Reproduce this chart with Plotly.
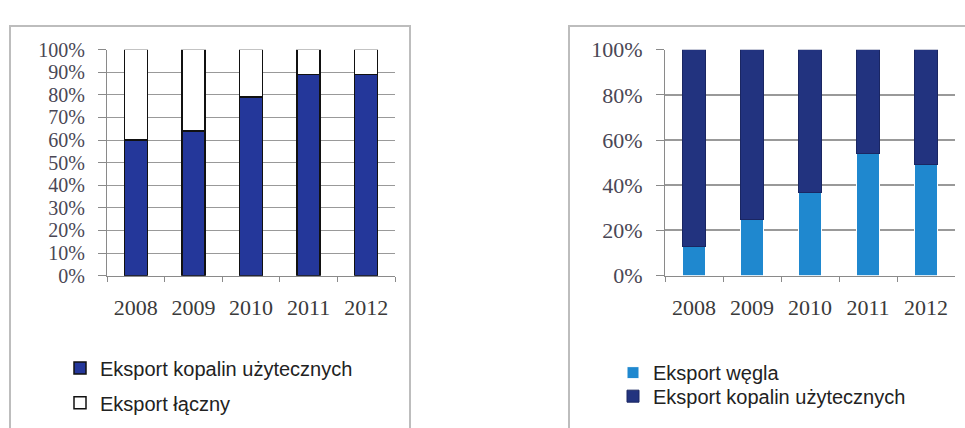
import plotly.graph_objects as go

# --- data -------------------------------------------------------------
years = ["2008", "2009", "2010", "2011", "2012"]

# left panel: share of mineral exports in total exports (%)
kopalin_share = [60, 64, 79, 89, 89]
laczny_rest = [40, 36, 21, 11, 11]

# right panel: share of coal within mineral exports (%)
wegiel_share = [13, 25, 37, 54, 49]
kopalin_rest = [87, 75, 63, 46, 51]

left_ticks = list(range(0, 101, 10))
left_labels = ["0%", "10%", "20%", "30%", "40%", "50%",
               "60%", "70%", "80%", "90%", "100%"]
right_ticks = list(range(0, 101, 20))
right_labels = ["0%", "20%", "40%", "60%", "80%", "100%"]

# --- page geometry (pixels) -------------------------------------------
W, H = 965, 428


def px(x):
    return x / W


def py(y):
    return 1 - y / H


NAVY = "#24379a"
DARK = "#22337f"
LIGHT = "#1f88cf"
SERIF = "Liberation Serif, Times New Roman, serif"
SANS = "Liberation Sans, Arial, sans-serif"

fig = go.Figure()

fig.add_trace(go.Bar(
    x=years, y=kopalin_share, name="Eksport kopalin użytecznych",
    marker=dict(color=NAVY, line=dict(color="#111111", width=1.5)),
    width=0.4, xaxis="x", yaxis="y", legend="legend",
))
fig.add_trace(go.Bar(
    x=years, y=laczny_rest, name="Eksport łączny",
    marker=dict(color="white", line=dict(color="#111111", width=1.5)),
    width=0.4, xaxis="x", yaxis="y", legend="legend2",
))
fig.add_trace(go.Bar(
    x=years, y=wegiel_share, name="Eksport węgla",
    marker=dict(color=LIGHT, line=dict(color="white", width=1)),
    width=0.38, xaxis="x2", yaxis="y2", legend="legend3",
))
fig.add_trace(go.Bar(
    x=years, y=kopalin_rest, name="Eksport kopalin użytecznych",
    marker=dict(color=DARK, line=dict(color="#1a2662", width=1)),
    width=0.38, xaxis="x2", yaxis="y2", legend="legend4",
))

xaxis_common = dict(
    type="category", showgrid=False, zeroline=False,
    showline=True, linecolor="#8a8a8a", linewidth=1,
    ticks="outside", tickson="boundaries", ticklen=5, tickcolor="#8a8a8a",
    tickfont=dict(family=SERIF, size=22, color="#3a3a3a"),
    ticklabelstandoff=12, fixedrange=True,
)
yaxis_common = dict(
    range=[0, 100], tickmode="array", showgrid=True, gridcolor="#999999",
    zeroline=False, showline=True, linecolor="#8a8a8a",
    linewidth=1, ticks="outside", ticklen=8, tickcolor="#8a8a8a",
    fixedrange=True,
)

legend_common = dict(
    bgcolor="rgba(0,0,0,0)", borderwidth=0, xanchor="left", yanchor="middle",
    font=dict(family=SANS, size=20, color="#222222"),
)

fig.update_layout(
    width=W, height=H, margin=dict(l=0, r=0, t=0, b=0),
    paper_bgcolor="white", plot_bgcolor="white",
    barmode="stack", showlegend=True,
    xaxis=dict(domain=[px(107), px(395)], anchor="y", **xaxis_common),
    yaxis=dict(domain=[py(280), py(40)], anchor="x", gridwidth=1,
               tickvals=left_ticks, ticktext=left_labels,
               tickfont=dict(family=SERIF, size=20, color="#4a4755"),
               ticklabelstandoff=9, **yaxis_common),
    xaxis2=dict(domain=[px(665), px(955)], anchor="y2", **xaxis_common),
    yaxis2=dict(domain=[py(280), py(40)], anchor="x2", gridwidth=1.5,
                tickvals=right_ticks, ticktext=right_labels,
                tickfont=dict(family=SERIF, size=22, color="#4a4755"),
                ticklabelstandoff=9, **yaxis_common),
    legend=dict(x=px(60), y=py(378), **legend_common),
    legend2=dict(x=px(60), y=py(415), **legend_common),
    legend3=dict(x=px(613), y=py(383), **legend_common),
    legend4=dict(x=px(613), y=py(408), **legend_common),
    shapes=[
        dict(type="rect", xref="paper", yref="paper",
             x0=px(10), x1=px(410), y0=-0.2, y1=py(15),
             line=dict(color="#bdbdbd", width=2), layer="below"),
        dict(type="rect", xref="paper", yref="paper",
             x0=px(569), x1=1.2, y0=-0.2, y1=py(15),
             line=dict(color="#bdbdbd", width=2), layer="below"),
    ],
)

fig.write_html("out.html")
